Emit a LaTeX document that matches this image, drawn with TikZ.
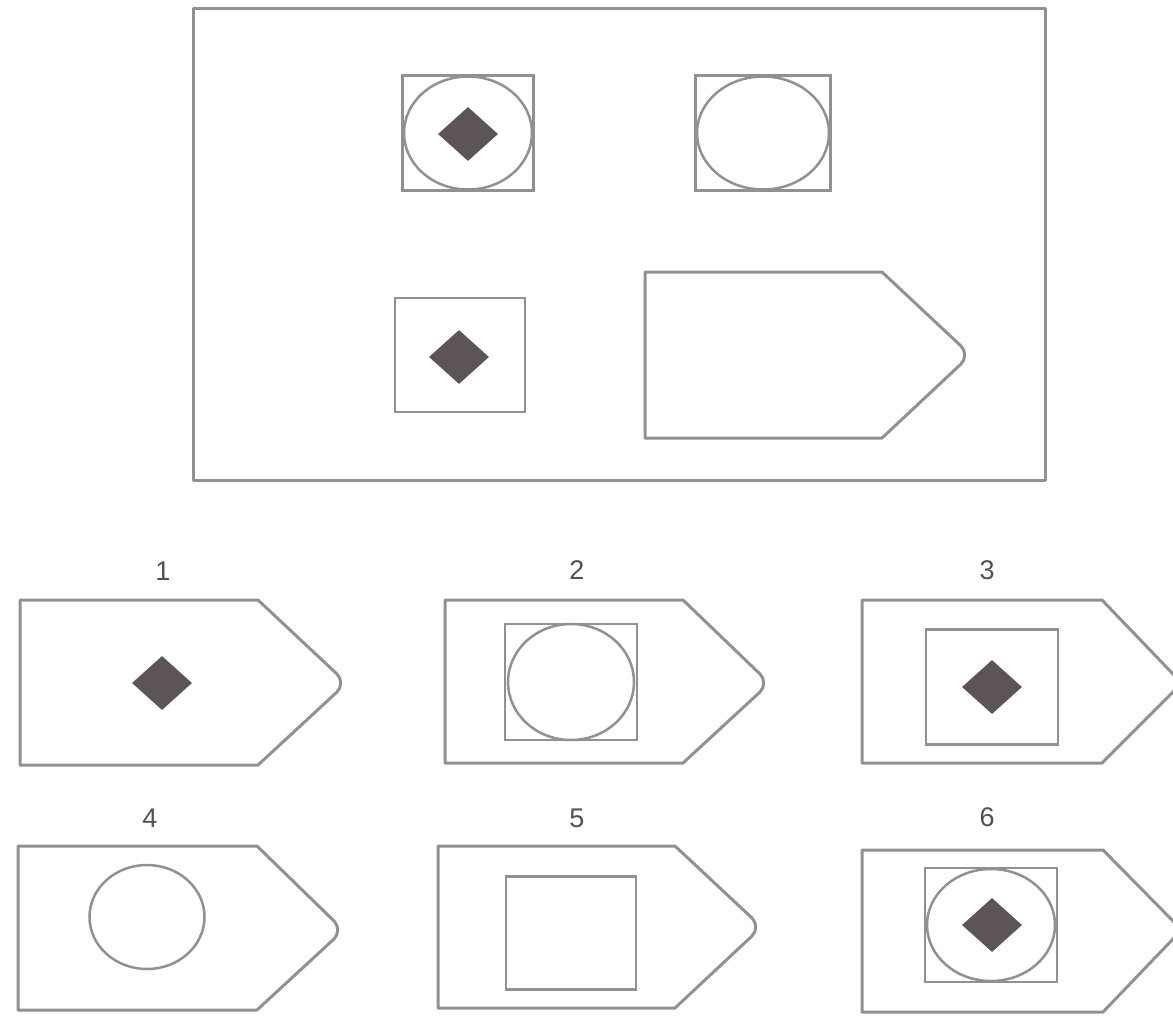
\documentclass[tikz,border=0pt]{standalone}
\usepackage{fontspec}
\setmainfont{Liberation Sans}
\usetikzlibrary{shapes.geometric}
\definecolor{linegray}{RGB}{145,145,145}
\definecolor{dia}{RGB}{92,84,88}
\definecolor{txtgray}{RGB}{80,80,80}
\tikzset{
  outline/.style={draw=linegray, line width=3pt, line join=round},
  sq/.style={rectangle, draw=linegray, line width=2.8pt, inner sep=0pt},
  ell/.style={ellipse, draw=linegray, line width=2.5pt, inner sep=0pt},
  dmd/.style={diamond, fill=dia, draw=none, inner sep=0pt, minimum width=60pt, minimum height=54pt},
  lbl/.style={text=txtgray, font=\fontsize{27}{30}\selectfont, inner sep=0pt},
}
\newcommand{\pent}[6]{% x0,y0,xc,xtip,ytip,y1
  \draw[outline] (#1,#2) -- (#3,#2) -- ([xshift=-3pt]#4,#5-9) to[out=-45,in=45] ([xshift=-3pt]#4,#5+9) -- (#3,#6) -- (#1,#6) -- cycle;}
\begin{document}
\begin{tikzpicture}[x=1pt,y=-1pt]
\useasboundingbox (0,0) rectangle (1173,1018);
% top panel
\draw[outline] (193,8) rectangle (1045,480);
\node[sq, minimum width=131pt, minimum height=115pt] (tl) at (468,133) {};
\node[ell, minimum width=128pt, minimum height=113pt] (tlc) at (468,133) {};
\node[dmd] (tld) at (468,134) {};
\node[sq, minimum width=135pt, minimum height=115pt] (tr) at (763,133) {};
\node[ell, minimum width=132pt, minimum height=113pt] (trc) at (763,133) {};
\node[sq, minimum width=130pt, minimum height=114pt] (bl) at (460,355) {};
\node[dmd] (bld) at (459,357) {};
\pent{645}{272}{882}{964}{355}{438}
% option 1
\node[lbl] (l1) at (163,571) {1};
\pent{20}{600}{258}{340}{683}{765}
\node[dmd] (d1) at (162,683) {};
% option 2
\node[lbl] (l2) at (577,570) {2};
\pent{445}{600}{683}{763}{683}{763}
\node[sq, minimum width=132pt, minimum height=116pt] (s2) at (571,682) {};
\node[ell, minimum width=126pt, minimum height=116pt] (c2) at (571,682) {};
% option 3
\node[lbl] (l3) at (987,570) {3};
\pent{862}{600}{1102}{1176}{683}{763}
\node[sq, minimum width=132pt, minimum height=115pt] (s3) at (992,687) {};
\node[dmd] (d3) at (992,687) {};
% option 4
\node[lbl] (l4) at (150,818) {4};
\pent{18}{846}{257}{337}{930}{1010}
\node[ell, minimum width=115pt, minimum height=104pt] (c4) at (147,917) {};
% option 5
\node[lbl] (l5) at (577,818) {5};
\pent{438}{846}{675}{755}{927}{1008}
\node[sq, minimum width=130pt, minimum height=113pt] (s5) at (571,933) {};
% option 6
\node[lbl] (l6) at (987,817) {6};
\pent{862}{850}{1103}{1176}{930}{1012}
\node[sq, minimum width=132pt, minimum height=114pt] (s6) at (991,925) {};
\node[ell, minimum width=128pt, minimum height=112pt] (c6) at (991,925) {};
\node[dmd] (d6) at (992,925) {};
\end{tikzpicture}
\end{document}
